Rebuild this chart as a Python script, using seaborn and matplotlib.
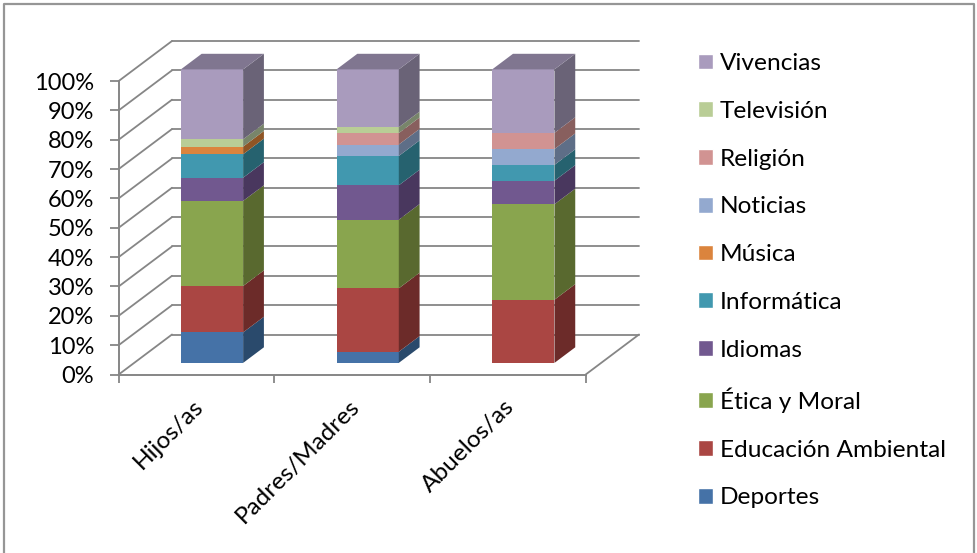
import numpy as np
import pandas as pd
import matplotlib
matplotlib.use("Agg")
import matplotlib.pyplot as plt
from matplotlib.lines import Line2D
from matplotlib.patches import Patch
from matplotlib.transforms import ScaledTranslation
import seaborn as sns

categorias = ["Hijos/as", "Padres/Madres", "Abuelos/as"]
series = ["Deportes", "Educación Ambiental", "Ética y Moral", "Idiomas", "Informática",
          "Música", "Noticias", "Religión", "Televisión", "Vivencias"]

deportes = [10.4, 3.8, 0]
educacion = [15.8, 21.6, 21.5]
etica = [29.0, 23.4, 32.5]
idiomas = [7.9, 11.7, 8.0]
informatica = [8.0, 10.0, 5.4]
musica = [2.6, 0, 0]
noticias = [0, 3.9, 5.4]
religion = [0, 3.9, 5.5]
television = [2.5, 2.0, 0]
vivencias = [23.8, 19.7, 21.6]

colores = ["#4572A7", "#AA4643", "#89A54E", "#71588F", "#4198AF",
           "#DB843D", "#93A9CF", "#D19392", "#B9CD96", "#A99BBD"]
lados = ["#2A4A6C", "#6C2B29", "#59692F", "#49375E", "#26626F",
         "#8F5525", "#5E6E87", "#885F5E", "#78856A", "#6A6377"]
color_techo = "#807690"
gris = "#868686"

valores = np.array([deportes, educacion, etica, idiomas, informatica,
                    musica, noticias, religion, television, vivencias])
acumulado = np.cumsum(valores, axis=0)
acumulado = acumulado / acumulado[-1] * 100

filas = []
for i, serie in enumerate(series):
    for j, cat in enumerate(categorias):
        filas.append({"categoria": cat, "serie": serie, "acum": acumulado[i, j]})
df = pd.DataFrame(filas)

sns.set_style("white")
plt.rcParams["font.family"] = ["Lato", "DejaVu Sans"]

W, H = 977, 553
fig = plt.figure(figsize=(W / 100, H / 100), dpi=100)
fig.patch.set_facecolor("white")
# marco: izquierda, arriba y derecha (abajo queda cortado)
fig.add_artist(Line2D([3.7 / W, 3.7 / W, 974 / W, 974 / W], [0, (H - 4) / H, (H - 4) / H, 0],
                      transform=fig.transFigure, color="#969696", lw=1.6))

ax = fig.add_axes([118.7 / W, (H - 374.5) / H, 467 / W, 293.5 / H])
ax.patch.set_alpha(0)

# profundidad del "3D" en unidades de datos
prof_x = 53.3 / (467 / 3)
prof_y = 40 / 2.935
frac_frente = 0.29
frac_fondo = frac_frente + 0.39
ancho = 0.40

# las barras mas altas primero, asi se ven como apiladas
sns.barplot(data=df, x="categoria", y="acum", hue="serie", order=categorias,
            hue_order=series[::-1], palette=dict(zip(series, colores)), dodge=False,
            width=ancho, linewidth=0, saturation=1, errorbar=None, legend=False, ax=ax, zorder=3)
for p in ax.patches:
    p.set_x(p.get_x() + frac_frente * prof_x)
    p.set_y(frac_frente * prof_y)
    p.set_clip_on(False)

ax.set_xlim(-0.5, 2.5)
ax.set_ylim(0, 100)

# paredes y piso
marcas = np.arange(0, 101, 10)
for y in marcas:
    ax.plot([-0.5, -0.5 + prof_x], [y, y + prof_y], color=gris, lw=1.3, clip_on=False, zorder=1)
    ax.plot([-0.5 + prof_x, 2.5 + prof_x], [y + prof_y, y + prof_y], color=gris, lw=1.3, clip_on=False, zorder=1)
ax.plot([2.5, 2.5 + prof_x], [0, prof_y], color=gris, lw=1.3, clip_on=False, zorder=1)

# caras laterales y techo
for j in range(len(categorias)):
    x1 = j + ancho / 2 + frac_frente * prof_x
    x2 = j + ancho / 2 + frac_fondo * prof_x
    y1 = frac_frente * prof_y
    y2 = frac_fondo * prof_y
    abajo = 0
    for i in range(len(series)):
        arriba = acumulado[i, j]
        if arriba > abajo:
            ax.fill([x1, x2, x2, x1], [abajo + y1, abajo + y2, arriba + y2, arriba + y1],
                    color=lados[i], lw=0, clip_on=False, zorder=3)
        abajo = arriba
    x0 = x1 - ancho
    ax.fill([x0, x1, x2, x0 + (x2 - x1)], [100 + y1, 100 + y1, 100 + y2, 100 + y2],
            color=color_techo, lw=0, clip_on=False, zorder=3)

# ejes
sns.despine(ax=ax)
for lado in ["left", "bottom"]:
    ax.spines[lado].set_color(gris)
    ax.spines[lado].set_linewidth(1.4)
ax.set_yticks(marcas)
ax.set_yticklabels([f"{m}%" for m in marcas])
ax.set_xticks([-0.5, 0.5, 1.5, 2.5], minor=True)
ax.tick_params(axis="y", left=True, length=6.3, width=1.3, color=gris, labelsize=17, pad=11.5, labelcolor="black")
ax.tick_params(axis="x", which="minor", bottom=True, length=5.8, width=1.3, color=gris)
ax.tick_params(axis="x", which="major", bottom=False, labelsize=17.6, pad=12, labelcolor="black")
ax.set_xlabel("")
ax.set_ylabel("")
plt.setp(ax.get_xticklabels(), rotation=45, ha="right", rotation_mode="anchor")
ajuste = ScaledTranslation(-4 / 100, 0, fig.dpi_scale_trans)
for etiqueta in ax.get_xticklabels():
    etiqueta.set_transform(etiqueta.get_transform() + ajuste)

# leyenda
handles = [Patch(facecolor=c, label=s) for s, c in zip(series, colores)][::-1]
fig.legend(handles=handles, loc="upper left", bbox_to_anchor=(698 / W, (H - 53) / H), frameon=False,
           fontsize=17.6, labelspacing=1.095, handlelength=0.61, handleheight=0.61, handletextpad=0.29,
           borderpad=0, borderaxespad=0, labelcolor="black")

fig.savefig("out.png", dpi=100)
